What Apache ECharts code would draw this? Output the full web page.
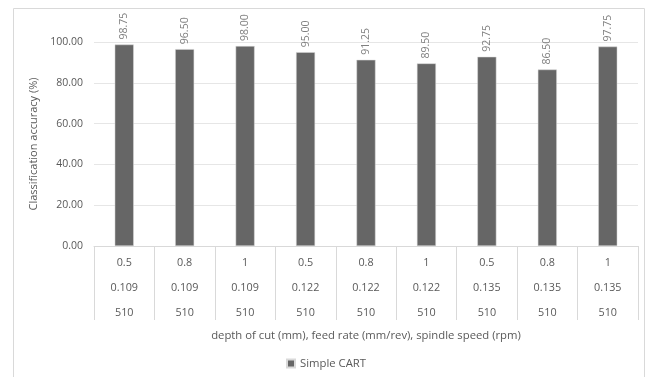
<!DOCTYPE html>
<html><head><meta charset="utf-8">
<script src="https://cdn.jsdelivr.net/npm/echarts@6/dist/echarts.min.js"></script>
<style>html,body{margin:0;padding:0;background:#fff}#c{width:652px;height:377px}</style>
</head><body><div id="c"></div>
<script>
const depthOfCut = ["0.5","0.8","1","0.5","0.8","1","0.5","0.8","1"];
const feedRate = ["0.109","0.109","0.109","0.122","0.122","0.122","0.135","0.135","0.135"];
const spindleSpeed = ["510","510","510","510","510","510","510","510","510"];
const accuracy = [98.75, 96.50, 98.00, 95.00, 91.25, 89.50, 92.75, 86.50, 97.75];
const yTicks = [0, 20, 40, 60, 80, 100];

const categories = depthOfCut.map((d, i) => d + "\n" + feedRate[i] + "\n" + spindleSpeed[i]);
const font = "'Open Sans', 'Noto Sans', sans-serif";
const chart = echarts.init(document.getElementById('c'));
chart.setOption({
  animation: false,
  textStyle: {fontFamily: font},
  graphic: [{type: 'rect', shape: {x: 13.5, y: 8.5, width: 631, height: 372}, style: {fill: 'none', stroke: '#d9d9d9', lineWidth: 1}, silent: true}],
  grid: {left: 94, right: 14, top: 42, bottom: 131, containLabel: false},
  legend: {show: true, bottom: 3, left: 'center', itemWidth: 8, itemHeight: 8, icon: 'rect', itemGap: 4,
    textStyle: {color: '#595959', fontSize: 11.3, fontFamily: font}, data: ['Simple CART']},
  xAxis: {
    type: 'category', data: categories,
    name: 'depth of cut (mm), feed rate (mm/rev), spindle speed (rpm)',
    nameLocation: 'middle', nameGap: 81,
    nameTextStyle: {color: '#595959', fontSize: 11.3, fontFamily: font},
    axisLine: {lineStyle: {color: '#d9d9d9'}},
    axisTick: {show: true, length: 74, lineStyle: {color: '#d9d9d9'}},
    axisLabel: {color: '#595959', fontSize: 10.8, lineHeight: 25, margin: 4, fontFamily: font, interval: 0}
  },
  yAxis: {
    type: 'value', min: 0, max: 100, interval: 20,
    name: 'Classification accuracy (%)', nameLocation: 'middle', nameGap: 54,
    nameTextStyle: {color: '#595959', fontSize: 11, fontFamily: font},
    axisLine: {show: false}, axisTick: {show: false},
    splitLine: {lineStyle: {color: '#e6e6e6'}},
    axisLabel: {color: '#595959', fontSize: 10.5, margin: 11, fontFamily: font,
      formatter: v => yTicks.includes(v) ? v.toFixed(2) : ''}
  },
  series: [{
    name: 'Simple CART', type: 'bar', data: accuracy, barWidth: 19,
    itemStyle: {color: '#666666', borderColor: '#d9d9d9', borderWidth: 0.5},
    label: {show: true, position: 'top', rotate: 90, align: 'left', verticalAlign: 'middle', distance: 5,
      color: '#7f7f7f', fontSize: 10.5, fontFamily: font, formatter: p => p.value.toFixed(2)}
  }]
});
</script></body></html>
